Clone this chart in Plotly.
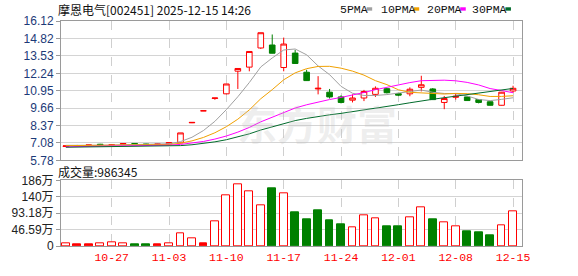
import numpy as np
import plotly.graph_objects as go

# ---------------- data ----------------
dates = ["10-21", "10-22", "10-23", "10-24", "10-27", "10-28", "10-29", "10-30", "10-31",
         "11-03", "11-04", "11-05", "11-06", "11-07", "11-10", "11-11", "11-12", "11-13", "11-14",
         "11-17", "11-18", "11-19", "11-20", "11-21", "11-24", "11-25", "11-26", "11-27", "11-28",
         "12-01", "12-02", "12-03", "12-04", "12-05", "12-08", "12-09", "12-10", "12-11", "12-12",
         "12-15"]
open_ = [6.81, 6.88, 6.92, 6.98, 6.93, 6.97, 7.04, 6.99, 6.99, 7.01,
         7.08, 8.57, 9.46, 10.38, 10.72, 12.40, 12.70, 14.12, 14.34, 12.67,
         13.74, 12.32, 11.08, 10.84, 10.49, 10.25, 10.41, 10.68, 11.10, 10.74,
         10.72, 11.20, 11.08, 10.08, 10.46, 10.49, 10.29, 10.13, 9.87, 10.93]
high = [6.88, 6.93, 6.94, 7.01, 6.98, 7.05, 7.06, 7.02, 7.02, 7.13,
        7.82, 8.60, 9.46, 10.41, 11.45, 12.60, 13.86, 15.25, 15.12, 14.89,
        13.98, 12.50, 12.03, 11.08, 10.61, 10.68, 11.01, 11.27, 11.15, 10.80,
        11.20, 12.06, 11.15, 10.56, 10.77, 10.52, 10.32, 10.16, 10.86, 11.32]
low = [6.79, 6.85, 6.82, 6.90, 6.91, 6.95, 6.96, 6.95, 6.96, 6.99,
       7.05, 8.55, 9.46, 10.28, 10.68, 11.08, 12.39, 14.05, 13.72, 12.39,
       12.95, 11.67, 10.68, 10.37, 10.01, 10.08, 10.18, 10.49, 10.75, 10.55,
       10.54, 10.90, 10.29, 9.58, 10.29, 10.20, 10.01, 9.85, 9.85, 10.79]
close = [6.86, 6.88, 6.92, 6.93, 6.95, 7.03, 6.98, 6.97, 6.99, 7.11,
         7.82, 8.60, 9.46, 10.41, 11.45, 12.60, 13.86, 15.25, 13.73, 14.41,
         12.97, 11.70, 11.13, 10.49, 10.08, 10.41, 10.89, 11.13, 10.80, 10.62,
         11.06, 11.39, 10.29, 10.37, 10.54, 10.22, 10.08, 9.87, 10.84, 11.13]
volume_wan = [8.2, 5.4, 5.4, 8.2, 10.9, 8.2, 5.4, 5.4, 5.4, 8.2,
              37.2, 20.9, 6.4, 70.0, 143.5, 174.4, 154.4, 116.3, 163.5, 149.0,
              95.4, 76.3, 100.8, 73.6, 60.0, 53.6, 86.3, 78.1, 54.5, 54.5,
              80.8, 110.8, 76.3, 67.2, 56.3, 40.9, 38.1, 30.0, 59.0, 98.6345]
# closes before the visible window (needed for the moving averages at the left edge)
prior_closes = [6.68, 6.70, 6.72, 6.69, 6.67, 6.70, 6.72, 6.71, 6.69, 6.70,
                6.68, 6.70, 6.73, 6.71, 6.69, 6.72, 6.70, 6.68, 6.71, 6.73,
                6.82, 6.86, 6.85, 6.88, 6.84, 6.92, 6.95, 6.93, 6.84]
ma_periods = [5, 10, 20, 30]
ma_names = ["5PMA", "10PMA", "20PMA", "30PMA"]
price_ticks = [5.78, 7.08, 8.37, 9.66, 10.95, 12.24, 13.53, 14.82, 16.12]
vol_ticks = [0, 46.59, 93.18, 140, 186]
vol_tick_text = ["0", "46.59万", "93.18万", "140万", "186万"]
axis_dates = ["10-27", "11-03", "11-10", "11-17", "11-24", "12-01", "12-08", "12-15"]
title_text = "摩恩电气[002451] 2025-12-15 14:26"

# ---------------- styles ----------------
RED = "#ff0000"
GREEN = "#008000"
MA_COLORS = ["#a0a0a0", "#f0a000", "#ff00ff", "#006b2b"]
GRID = "#d4d4d4"
BORDER = "#9a9a9a"
TICK_BLUE = "#1c3a78"

n = len(dates)
x = list(range(n))
all_close = np.array(prior_closes + close, dtype=float)

fig = go.Figure()

fig.add_annotation(text="<b>东方财富</b>", xref="paper", yref="paper", x=0.555, y=0.685,
                   showarrow=False, font=dict(size=40, color="rgba(190,190,190,0.26)",
                                              family="Noto Sans CJK SC"))

fig.add_trace(go.Candlestick(
    x=x, open=open_, high=high, low=low, close=close,
    increasing=dict(line=dict(color=RED, width=1), fillcolor="white"),
    decreasing=dict(line=dict(color=GREEN, width=1), fillcolor=GREEN),
    whiskerwidth=0, showlegend=False, hoverinfo="skip", xaxis="x", yaxis="y"))

for p, c, name in zip(ma_periods, MA_COLORS, ma_names):
    ma = np.convolve(all_close, np.ones(p) / p, mode="valid")[-n:]
    fig.add_trace(go.Scatter(x=x, y=ma, mode="lines", line=dict(color=c, width=1),
                             name=name, showlegend=False, hoverinfo="skip",
                             xaxis="x", yaxis="y"))

# volume colours: red when close >= previous close (filled if doji), green otherwise
prev = [prior_closes[-1]] + close[:-1]
fill_c, line_c = [], []
for o, c, pc in zip(open_, close, prev):
    if c >= pc:
        line_c.append(RED)
        fill_c.append(RED if c == o else "white")
    else:
        line_c.append(GREEN)
        fill_c.append(GREEN)
fig.add_trace(go.Bar(x=x, y=volume_wan, width=0.68,
                     marker=dict(color=fill_c, line=dict(color=line_c, width=1)),
                     showlegend=False, hoverinfo="skip", xaxis="x2", yaxis="y2"))

mon_idx = [dates.index(d) for d in axis_dates]
xr = [-0.42, n - 1 + 0.78]
common_x = dict(range=xr, tickvals=mon_idx, showgrid=True, gridcolor="#cfcfcf",
                griddash="dash", gridwidth=1, showline=True, mirror=True,
                linecolor=BORDER, zeroline=False, ticks="")
common_y = dict(showgrid=True, gridcolor=GRID, gridwidth=1, showline=True, mirror=True,
                linecolor=BORDER, zeroline=False, ticks="outside", ticklen=4,
                tickcolor=BORDER)

fig.update_layout(
    width=578, height=276, margin=dict(l=57, r=56, t=21, b=21),
    paper_bgcolor="white", plot_bgcolor="white", bargap=0,
    xaxis=dict(**common_x, domain=[0, 1], anchor="y", showticklabels=False,
               rangeslider=dict(visible=False)),
    xaxis2=dict(**common_x, domain=[0, 1], anchor="y2", matches="x",
                ticktext=axis_dates, showticklabels=True,
                tickfont=dict(family="Liberation Mono", size=11.5, color=RED)),
    yaxis=dict(**common_y, domain=[0.3803, 1], range=[price_ticks[0], price_ticks[-1]],
               tickvals=price_ticks, ticktext=[f"{v:.2f}" for v in price_ticks],
               tickfont=dict(family="Liberation Sans", size=12, color=TICK_BLUE)),
    yaxis2=dict(**common_y, domain=[0, 0.2919], range=[vol_ticks[0], vol_ticks[-1]],
                tickvals=vol_ticks, ticktext=vol_tick_text,
                tickfont=dict(family="Liberation Sans, Noto Sans CJK SC", size=12,
                              color="#222222")),
)

fig.add_annotation(text=title_text, xref="paper", yref="paper", x=-0.01, y=1.052,
                   xanchor="left", yanchor="middle", showarrow=False,
                   font=dict(family="Noto Sans CJK SC", size=12, color="#111111"))

fig.add_annotation(text=f"成交量:{int(round(volume_wan[-1] * 10000))}", xref="paper",
                   yref="paper", x=-0.01, y=0.329, xanchor="left", yanchor="middle",
                   showarrow=False,
                   font=dict(family="Noto Sans CJK SC", size=12, color="#111111"))

# custom legend: label followed by a small colour block
legend_text_x = [0.600, 0.690, 0.790, 0.888]
legend_box_x = [0.663, 0.765, 0.866, 0.964]
for tx, bx, name, c in zip(legend_text_x, legend_box_x, ma_names, MA_COLORS):
    fig.add_annotation(text=name, xref="paper", yref="paper", x=tx, y=1.052,
                       xanchor="left", yanchor="middle", showarrow=False,
                       font=dict(family="Liberation Mono", size=11.5, color="#111111"))
    fig.add_shape(type="rect", xref="paper", yref="paper", x0=bx, x1=bx + 0.012,
                  y0=1.046, y1=1.061, fillcolor=c, line=dict(width=0))

fig.write_html("out.html")
